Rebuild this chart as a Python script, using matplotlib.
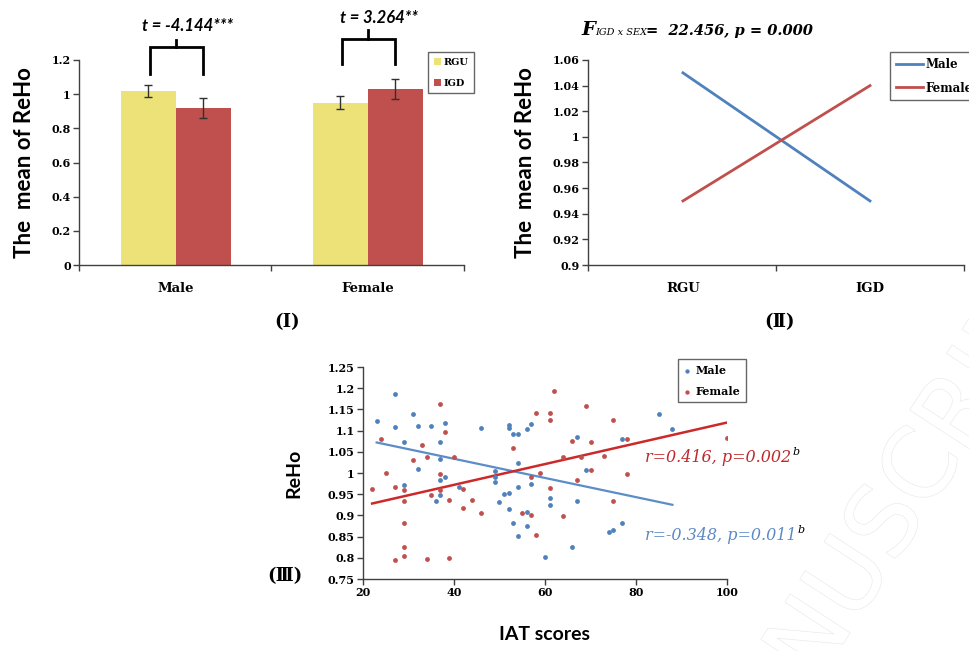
import numpy as np
import matplotlib
matplotlib.use("Agg")
import matplotlib.pyplot as plt
from matplotlib.ticker import FuncFormatter
import matplotlib.patheffects as pe

# ---------------- data ----------------
sexes = ["Male", "Female"]
groups = ["RGU", "IGD"]
bar_rgu = [1.02, 0.95]
bar_igd = [0.92, 1.03]
err_rgu = [0.035, 0.037]
err_igd = [0.057, 0.056]
t_labels = ["t = -4.144***", "t = 3.264**"]
bracket_low = [1.12, 1.175]
bracket_top = [1.277, 1.324]
bracket_stem = [1.32, 1.373]
t_label_y = [1.40, 1.447]

inter_groups = ["RGU", "IGD"]
inter_male = [1.05, 0.95]
inter_female = [0.95, 1.04]

male_x = [23, 27, 27, 29, 29, 31, 32, 32, 35, 37, 37, 38, 37, 38, 36, 37, 41, 46,
          49, 49, 49, 50, 51, 52, 52, 52, 53, 54, 52, 53, 54, 54, 54, 56, 57, 57,
          56, 56, 60, 61, 61, 67, 67, 69, 66, 74, 75, 77, 77, 85, 88]
male_y = [1.123, 1.187, 1.108, 1.074, 0.971, 1.14, 1.112, 1.009, 1.11, 1.072,
          1.032, 1.119, 0.983, 0.99, 0.935, 0.947, 0.966, 1.106,
          1.004, 0.991, 0.978, 0.931, 0.951, 0.954, 1.113, 1.107, 1.093, 1.093,
          0.914, 0.881, 1.023, 0.968, 0.852, 1.104, 1.115, 0.975,
          0.907, 0.875, 0.803, 0.942, 0.924, 1.086, 0.933, 1.008, 0.826,
          0.862, 0.866, 0.883, 1.08, 1.139, 1.104]

female_x = [22, 24, 25, 27, 27, 29, 29, 29, 29, 29, 31, 33, 34, 34, 35, 37, 38,
            37, 37, 39, 39, 40, 42, 42, 44, 46, 53, 55, 57, 57, 58, 58, 59,
            61, 61, 61, 62, 64, 64, 66, 67, 68, 69, 70, 70, 73, 75, 75, 78, 78, 100]
female_y = [0.962, 1.08, 0.999, 0.968, 0.795, 0.961, 0.933, 0.881, 0.826, 0.805,
            1.03, 1.065, 1.038, 0.798, 0.947, 1.162, 1.096, 0.998, 0.961, 0.937,
            0.8, 1.038, 0.963, 0.917, 0.937, 0.905, 1.059, 0.905, 0.99, 0.9,
            0.854, 1.142, 1.0, 1.142, 1.125, 0.965, 1.193, 1.037, 0.899, 1.076,
            0.983, 1.037, 1.157, 1.074, 1.008, 1.039, 1.125, 0.933, 1.08, 0.997, 1.083]

male_fit_x = [23, 88]
male_fit_y = [1.072, 0.925]
female_fit_x = [22, 100]
female_fit_y = [0.928, 1.119]
r_labels = ["r=-0.348, p=0.011", "r=0.416, p=0.002"]

# ---------------- style ----------------
W, H = 970, 651
fig = plt.figure(figsize=(W / 100, H / 100), dpi=100)

YELLOW = "#ECE277"
RED = "#C0504D"
BLUE = "#4F81BD"
SERIF = "DejaVu Serif"
SANS = "Lato"
TICKFS = 8
AXCOL = "#404040"


def rect(l, r, t, b):
    return [l / W, 1 - b / H, (r - l) / W, (b - t) / H]


def style_axes(ax):
    for s in ["top", "right"]:
        ax.spines[s].set_visible(False)
    for s in ["left", "bottom"]:
        ax.spines[s].set_color(AXCOL)
        ax.spines[s].set_linewidth(1.0)
    ax.tick_params(direction="out", length=4, width=1, color=AXCOL,
                   labelsize=TICKFS, pad=2)
    for lab in ax.get_yticklabels() + ax.get_xticklabels():
        lab.set_fontfamily(SERIF)
        lab.set_fontweight("bold")


gfmt = FuncFormatter(lambda v, p: "%g" % round(v, 4))

# watermark (faint, behind everything)
wm = fig.text(885 / W, 1 - 530 / H, "MANUSCRIPT", fontfamily="DejaVu Sans",
              fontsize=70, rotation=57, ha="center", va="center", color="white",
              zorder=-5)
wm.set_path_effects([pe.Stroke(linewidth=0.9, foreground="#e9e9e9"), pe.Normal()])

# ---------------- Panel I ----------------
ax1 = fig.add_axes(rect(79, 464, 60, 265))
ax1.patch.set_alpha(0)
cats = np.array([0.503, 1.50])
bw = 0.286
x_rgu = cats - bw / 2
x_igd = cats + bw / 2
ax1.bar(x_rgu, bar_rgu, width=bw, color=YELLOW, label="RGU", zorder=2)
ax1.bar(x_igd, bar_igd, width=bw, color=RED, label="IGD", zorder=2)
ax1.errorbar(x_rgu, bar_rgu, yerr=err_rgu, fmt="none", ecolor="#303030",
             elinewidth=1, capsize=3, capthick=1, zorder=3)
ax1.errorbar(x_igd, bar_igd, yerr=err_igd, fmt="none", ecolor="#303030",
             elinewidth=1, capsize=3, capthick=1, zorder=3)
ax1.set_xlim(0, 2)
ax1.set_ylim(0, 1.2)
ax1.set_yticks(np.arange(0, 1.21, 0.2))
ax1.yaxis.set_major_formatter(gfmt)
ax1.set_xticks([0, 1, 2])
ax1.set_xticklabels([])
ax1.set_xticks(cats, minor=True)
ax1.set_xticklabels(sexes, minor=True)
ax1.tick_params(axis="x", which="minor", length=0, pad=12)
style_axes(ax1)
for lab in ax1.get_xticklabels(minor=True):
    lab.set_fontfamily(SERIF)
    lab.set_fontweight("bold")
    lab.set_fontsize(9.5)
ax1.set_ylabel("The  mean of ReHo", fontfamily=SANS, fontweight="bold",
               fontsize=16, labelpad=12)

for i in range(2):
    xl, xr, xc = x_rgu[i] + 0.01, x_igd[i], cats[i]
    ax1.plot([xl, xl, xr, xr], [bracket_low[i], bracket_top[i], bracket_top[i], bracket_low[i]],
             color="black", lw=2, clip_on=False, solid_joinstyle="miter")
    ax1.plot([xc, xc], [bracket_top[i], bracket_stem[i]], color="black", lw=2, clip_on=False)
    ax1.text(xc + 0.06, t_label_y[i], t_labels[i], ha="center", va="center",
             fontfamily=SANS, fontweight="bold", fontstyle="italic", fontsize=12,
             clip_on=False)

leg1 = ax1.legend(loc="upper left", bbox_to_anchor=(428 / W, 1 - 52 / H),
                  bbox_transform=fig.transFigure, frameon=True, fancybox=False,
                  prop={"family": SERIF, "weight": "bold", "size": 7},
                  handlelength=0.7, handleheight=0.7, handletextpad=0.3,
                  labelspacing=1.2, borderpad=0.6, borderaxespad=0)
leg1.get_frame().set_edgecolor("#404040")
leg1.get_frame().set_linewidth(1.0)

# ---------------- Panel II ----------------
ax2 = fig.add_axes(rect(588, 964, 60, 265))
ax2.patch.set_alpha(0)
xi = np.array([0.505, 1.5])
ax2.plot(xi, inter_male, color=BLUE, lw=2, label="Male")
ax2.plot(xi, inter_female, color=RED, lw=2, label="Female")
ax2.set_xlim(0, 2)
ax2.set_ylim(0.9, 1.06)
ax2.set_yticks(np.arange(0.9, 1.0601, 0.02))
ax2.yaxis.set_major_formatter(gfmt)
ax2.set_xticks([0, 1, 2])
ax2.set_xticklabels([])
ax2.set_xticks(xi, minor=True)
ax2.set_xticklabels(inter_groups, minor=True)
ax2.tick_params(axis="x", which="minor", length=0, pad=12)
style_axes(ax2)
for lab in ax2.get_xticklabels(minor=True):
    lab.set_fontfamily(SERIF)
    lab.set_fontweight("bold")
    lab.set_fontsize(9.5)
ax2.set_ylabel("The  mean of ReHo", fontfamily=SANS, fontweight="bold",
               fontsize=16, labelpad=12)
leg2 = ax2.legend(loc="upper left", bbox_to_anchor=(890 / W, 1 - 52 / H),
                  bbox_transform=fig.transFigure, frameon=True, fancybox=False,
                  prop={"family": SERIF, "weight": "bold", "size": 8.5},
                  handlelength=2.3, handletextpad=0.2, labelspacing=0.9,
                  borderpad=0.5, borderaxespad=0)
leg2.get_frame().set_edgecolor("#404040")
leg2.get_frame().set_linewidth(1.0)

fig.text(581 / W, 1 - 35 / H, "F", fontfamily=SERIF, fontweight="bold",
         fontstyle="italic", fontsize=14, va="baseline")
fig.text(595 / W, 1 - 35 / H, "IGD x SEX", fontfamily=SERIF, fontstyle="italic",
         fontsize=7, va="baseline")
fig.text(646 / W, 1 - 35 / H, "=  22.456, p = 0.000", fontfamily=SERIF,
         fontweight="bold", fontstyle="italic", fontsize=10.5, va="baseline")

# panel labels
fig.text(287 / W, 1 - 322 / H, "(Ⅰ)", fontfamily=[SERIF, "Noto Sans CJK SC"],
         fontweight="bold", fontsize=13, ha="center", va="center")
fig.text(780 / W, 1 - 322 / H, "(Ⅱ)", fontfamily=[SERIF, "Noto Sans CJK SC"],
         fontweight="bold", fontsize=13, ha="center", va="center")
fig.text(285 / W, 1 - 576 / H, "(Ⅲ)", fontfamily=[SERIF, "Noto Sans CJK SC"],
         fontweight="bold", fontsize=13, ha="center", va="center")

# ---------------- Panel III ----------------
ax3 = fig.add_axes(rect(363, 727, 367, 579))
ax3.patch.set_alpha(0)
ax3.scatter(male_x, male_y, s=12, color=BLUE, label="Male", zorder=3, linewidths=0)
ax3.scatter(female_x, female_y, s=12, color=RED, label="Female", zorder=3, linewidths=0)
ax3.plot(male_fit_x, male_fit_y, color="#5B8DC8", lw=1.6, zorder=2)
ax3.plot(female_fit_x, female_fit_y, color="#CC2A2A", lw=1.8, zorder=2)
ax3.set_xlim(20, 100)
ax3.set_ylim(0.75, 1.25)
ax3.set_xticks(np.arange(20, 101, 20))
ax3.set_yticks(np.arange(0.75, 1.2501, 0.05))
ax3.yaxis.set_major_formatter(gfmt)
style_axes(ax3)
ax3.set_xlabel("IAT scores", fontfamily=SANS, fontweight="bold", fontsize=14,
               labelpad=20)
ax3.set_ylabel("ReHo", fontfamily=SANS, fontweight="bold", fontsize=14, labelpad=18)

t_red = ax3.text(645 / W, 1 - 462 / H, r_labels[1], transform=fig.transFigure,
                 fontfamily=SERIF, fontstyle="italic", fontsize=11.5, color="#C0282B",
                 va="baseline", ha="left")
ax3.annotate("b", xy=(1, 1), xycoords=t_red, xytext=(1, -2), textcoords="offset points",
             fontfamily=SERIF, fontstyle="italic", fontsize=8, color="black",
             va="center", ha="left")
t_blue = ax3.text(645 / W, 1 - 540 / H, r_labels[0], transform=fig.transFigure,
                  fontfamily=SERIF, fontstyle="italic", fontsize=11.5, color="#5A8AC6",
                  va="baseline", ha="left")
ax3.annotate("b", xy=(1, 1), xycoords=t_blue, xytext=(1, -2), textcoords="offset points",
             fontfamily=SERIF, fontstyle="italic", fontsize=8, color="black",
             va="center", ha="left")

leg3 = ax3.legend(loc="upper left", bbox_to_anchor=(678 / W, 1 - 359 / H),
                  bbox_transform=fig.transFigure, frameon=True, fancybox=False,
                  prop={"family": SERIF, "weight": "bold", "size": 8},
                  handlelength=0.6, handletextpad=0.5, labelspacing=0.9,
                  borderpad=0.5, borderaxespad=0, markerscale=0.9)
leg3.get_frame().set_edgecolor("#404040")
leg3.get_frame().set_linewidth(1.0)

fig.savefig("out.png", dpi=100)
